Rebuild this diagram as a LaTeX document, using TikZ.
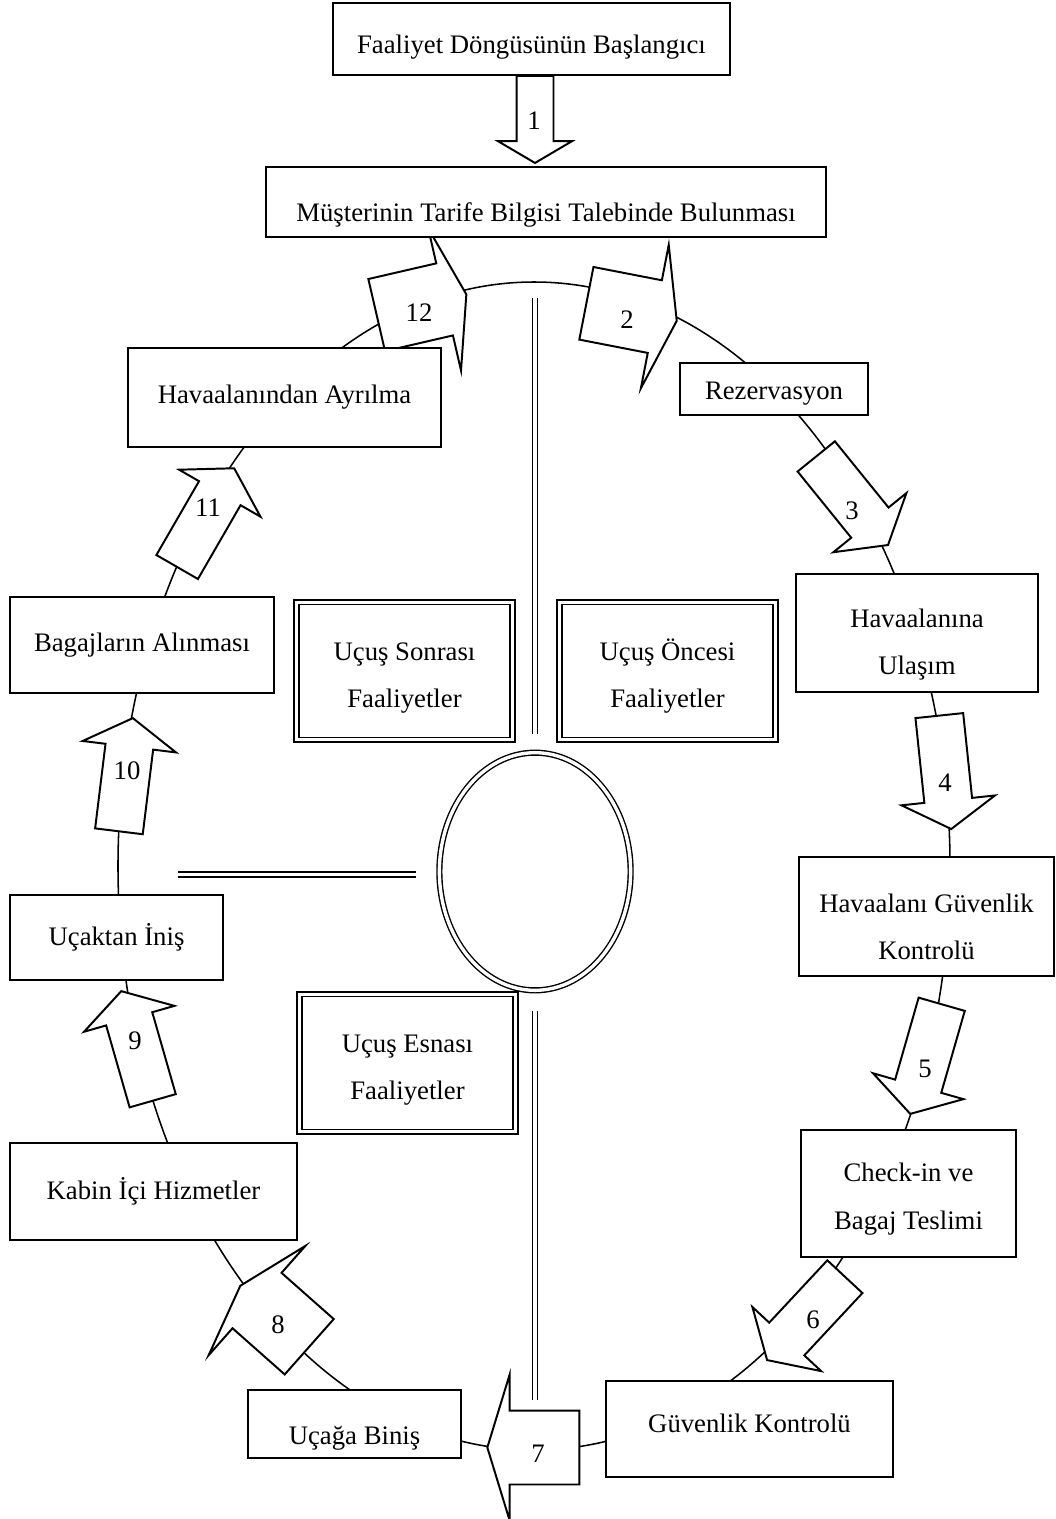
\documentclass[tikz,border=0pt]{standalone}
\usepackage{fontspec}
\setmainfont{Liberation Serif}
\usetikzlibrary{shapes.geometric, shapes.arrows}

\begin{document}
\begin{tikzpicture}[
    x=0.025cm, y=-0.025cm,
    box/.style={
        draw, line width=1.3pt, fill=white, align=center, inner sep=0pt,
        font=\fontsize{19}{33.7}\selectfont
    },
    textlow/.style={text height=#1, text depth=0pt},
    phase/.style={
        draw, line width=1pt, double, double distance=2.4pt, fill=white,
        align=center, inner sep=0pt, minimum width=5.4cm, minimum height=3.43cm,
        font=\fontsize{19}{33.7}\selectfont, textlow=52.5pt
    },
    num/.style={font=\fontsize{19}{22}\selectfont, inner sep=0pt},
    blockarrow/.style={
        single arrow, draw, line width=1.4pt, fill=white,
        inner xsep=0pt, minimum width=0pt
    },
    bigarrow/.style={
        blockarrow, inner ysep=0.9cm, single arrow head extend=0.9cm,
        single arrow tip angle=146, minimum height=2.3cm
    },
    smallarrow/.style={
        blockarrow, inner ysep=0.575cm, single arrow head extend=0.575cm,
        single arrow tip angle=117, minimum height=2.85cm
    },
    dline/.style={line width=1pt, double, double distance=2.4pt}
]
\useasboundingbox (0,0) rectangle (1056,1519);

% the cycle runs along one large ellipse, boxes and arrows sit on top of it
\draw[line width=1.1pt] (534,866) ellipse [x radius=416, y radius=584];

% hub in the middle and the three dividing lines
\node[draw, ellipse, line width=1pt, double, double distance=2.4pt, fill=white,
      minimum width=4.78cm, minimum height=5.94cm, inner sep=0pt] (hub) at (535,871.5) {};
\coordinate (vtop)  at (535,298);
\coordinate (vbot)  at (535,1400);
\coordinate (hleft) at (178,874.5);
\draw[dline, shorten <=0.45cm]  (hub.north) -- (vtop);
\draw[dline, shorten <=0.5cm]   (hub.south) -- (vbot);
\draw[dline, shorten <=0.575cm] (hub.west |- hleft) -- (hleft);

% phases of the flight
\node[phase] (after)  at (404.5,671)  {Uçuş Sonrası\\Faaliyetler};
\node[phase] (before) at (667.5,671)  {Uçuş Öncesi\\Faaliyetler};
\node[phase] (during) at (407.5,1063) {Uçuş Esnası\\Faaliyetler};

% block arrows (centre, direction)
\node[blockarrow, inner ysep=0.4375cm, single arrow head extend=0.4625cm,
      single arrow tip angle=119, minimum height=2.175cm, rotate=-90] (a1) at (535,114) {};
\node[bigarrow,   rotate=-11]   (a2)  at (626,311)     {};
\node[smallarrow, rotate=-51]   (a3)  at (847.5,495)   {};
\node[smallarrow, rotate=-84]   (a4)  at (944.5,765)   {};
\node[smallarrow, rotate=-106]  (a5)  at (928,1052)    {};
\node[smallarrow, rotate=-133]  (a6)  at (811,1313)    {};
\node[bigarrow,   rotate=180]   (a7)  at (539,1447.5)  {};
\node[bigarrow,   rotate=138.5] (a8)  at (279,1320)    {};
\node[smallarrow, rotate=106]   (a9)  at (139,1053)    {};
\node[smallarrow, rotate=83]    (a10) at (125,782)     {};
\node[smallarrow, rotate=60]    (a11) at (202,524)     {};
\node[bigarrow,   rotate=13]    (a12) at (416,306)     {};

% step numbers
\node[num] (n1)  at (534,121)  {1};
\node[num] (n2)  at (627,320)  {2};
\node[num] (n3)  at (852,511)  {3};
\node[num] (n4)  at (945,783)  {4};
\node[num] (n5)  at (925,1069) {5};
\node[num] (n6)  at (813,1320) {6};
\node[num] (n7)  at (538,1454) {7};
\node[num] (n8)  at (278,1325) {8};
\node[num] (n9)  at (135,1041) {9};
\node[num] (n10) at (127,771)  {10};
\node[num] (n11) at (208,508)  {11};
\node[num] (n12) at (419,313)  {12};

% activity boxes
\node[box, textlow=20.4pt, minimum width=9.925cm, minimum height=1.8cm]   (start)   at (531.5,39)     {Faaliyet Döngüsünün Başlangıcı};
\node[box, textlow=27.5pt, minimum width=14cm,    minimum height=1.75cm]  (tarife)  at (546,202)      {Müşterinin Tarife Bilgisi Talebinde Bulunması};
\node[box, textlow=15.6pt, minimum width=4.7cm,   minimum height=1.3cm]   (rez)     at (774,389)      {Rezervasyon};
\node[box, textlow=59pt,   minimum width=6.05cm,  minimum height=2.95cm]  (ulasim)  at (917,633)      {Havaalanına\\Ulaşım};
\node[box, textlow=61pt,   minimum width=6.375cm, minimum height=2.975cm] (hgk)     at (926.5,916.5)  {Havaalanı Güvenlik\\Kontrolü};
\node[box, textlow=51pt,   minimum width=5.375cm, minimum height=3.175cm] (checkin) at (908.5,1193.5) {Check-in ve\\Bagaj Teslimi};
\node[box, textlow=4.5pt,  minimum width=7.175cm, minimum height=2.4cm]   (gk)      at (749.5,1429)   {Güvenlik Kontrolü};
\node[box, textlow=28.8pt, minimum width=5.325cm, minimum height=1.7cm]   (binis)   at (354.5,1424)   {Uçağa Biniş};
\node[box, minimum width=7.175cm, minimum height=2.425cm] (kabin)   at (153.5,1191.5) {Kabin İçi Hizmetler};
\node[box, minimum width=5.325cm, minimum height=2.125cm] (inis)    at (116.5,937.5)  {Uçaktan İniş};
\node[box, minimum width=6.6cm,   minimum height=2.4cm]   (bagaj)   at (142,645)      {Bagajların Alınması};
\node[box, minimum width=7.825cm, minimum height=2.475cm] (ayrilma) at (284.5,397.5)  {Havaalanından Ayrılma};

\end{tikzpicture}
\end{document}
